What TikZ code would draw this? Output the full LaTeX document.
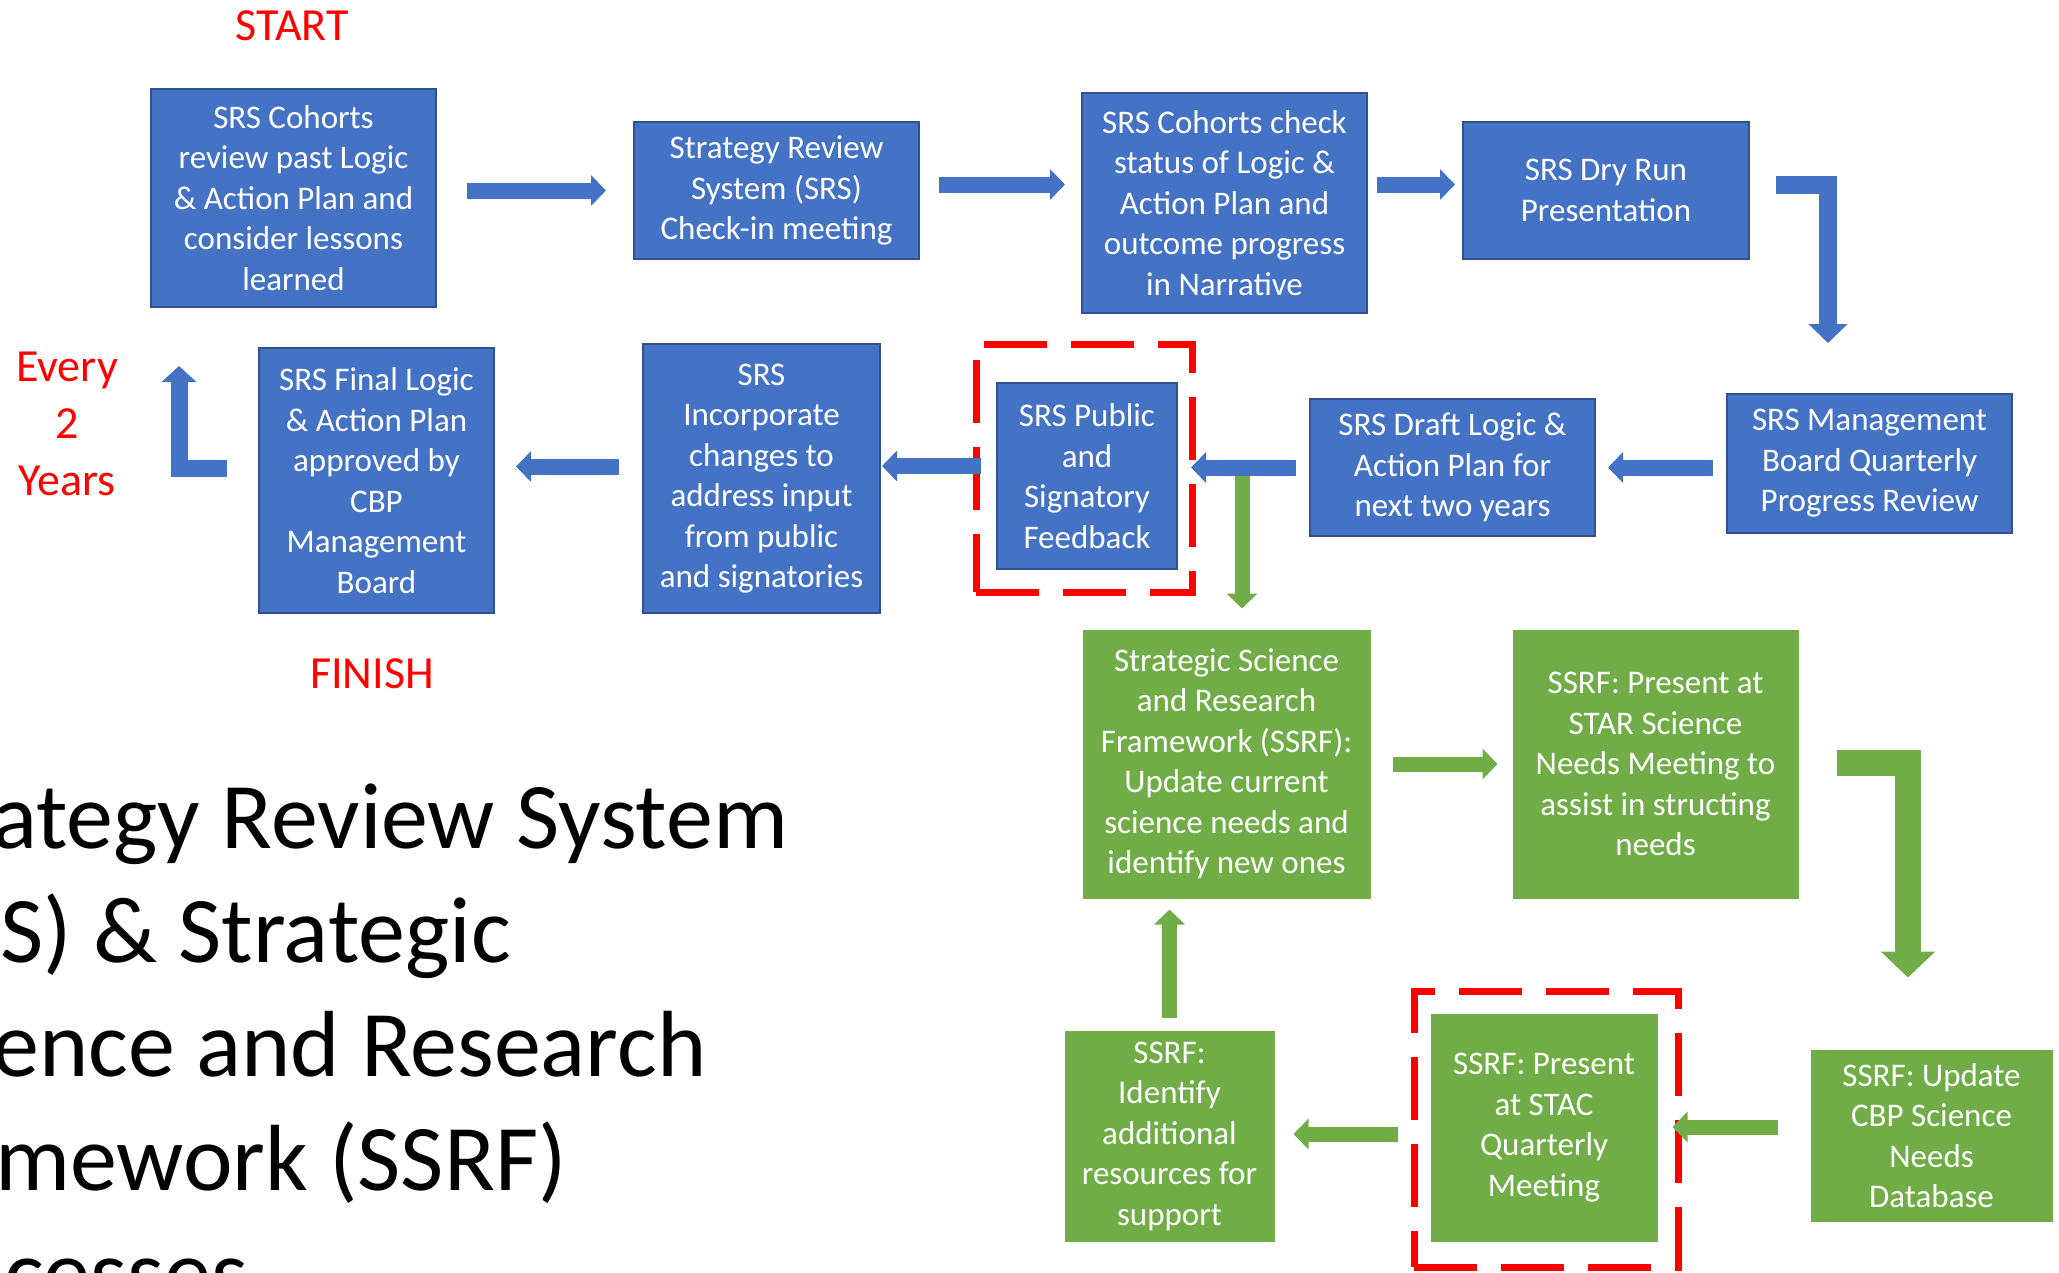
\documentclass[tikz,border=0pt]{standalone}
\usepackage{fontspec}
\setmainfont{Carlito}
\usetikzlibrary{arrows.meta,calc}
\definecolor{bfill}{HTML}{4472C4}
\definecolor{bline}{HTML}{2F528F}
\definecolor{gfill}{HTML}{70AD47}
\definecolor{rred}{HTML}{FF0000}
\begin{document}
\begin{tikzpicture}[x=1pt,y=-1pt,
  bbox/.style={draw=bline, line width=2pt, fill=bfill, text=white, align=center, inner sep=0pt, font=\fontsize{33}{40.5}\selectfont},
  gbox/.style={draw=gfill, line width=1pt, fill=gfill, text=white, align=center, inner sep=0pt, font=\fontsize{33}{40.5}\selectfont},
  reddash/.style={draw=rred, line width=7pt, dash pattern=on 63pt off 24pt, inner sep=0pt},
  redtext/.style={text=rred, align=center, inner sep=0pt, font=\fontsize{46}{57}\selectfont},
  bigtext/.style={anchor=base west, inner sep=0pt, font=\fontsize{94}{114}\selectfont},
  barrow/.style={draw=bfill, line width=16pt, line cap=butt, -{Triangle[length=15pt,width=30pt]}},
  bbent/.style={draw=bfill, line width=18pt, line cap=butt, line join=miter, -{Triangle[length=19pt,width=38pt]}},
  bell/.style={draw=bfill, line width=17pt, line cap=butt, line join=miter, -{Triangle[length=16pt,width=34pt]}},
  garrow/.style={draw=gfill, line width=15pt, line cap=butt, -{Triangle[length=15pt,width=30pt]}},
  gbent/.style={draw=gfill, line width=26pt, line cap=butt, line join=miter, -{Triangle[length=26pt,width=53pt]}}
]
\useasboundingbox[fill=white] (0,0) rectangle (2059,1272);

% red labels
\node[redtext] (start) at (292,26) {START};
\node[redtext] (finish) at (372,674) {FINISH};
\node[redtext] (every) at (67,424) {Every\\2\\Years};

% big title text (cut by the page edge, as in the reference)
\node[bigtext] (t1) at (-8,848) {ategy Review System};
\node[bigtext] (t2) at (0,962) {S) \& Strategic};
\node[bigtext] (t3) at (-8,1076) {ence and Research};
\node[bigtext] (t4) at (-5,1190) {mework (SSRF)};
\node[bigtext] (t5) at (4,1304) {cesses};

% dashed highlight frames
\node[reddash, minimum width=216pt, minimum height=248pt] (d1) at (1084,468) {};
\node[reddash, minimum width=264pt, minimum height=276pt] (d2) at (1546,1129) {};

% blue boxes
\node[bbox, minimum width=285pt, minimum height=218pt] (b1) at (293.5,198) {SRS Cohorts\\review past Logic\\\& Action Plan and\\consider lessons\\learned};
\node[bbox, minimum width=285pt, minimum height=137pt] (b2) at (776.5,190.5) {Strategy Review\\System (SRS)\\Check-in meeting};
\node[bbox, minimum width=285pt, minimum height=220pt] (b3) at (1224.5,203) {SRS Cohorts check\\status of Logic \&\\Action Plan and\\outcome progress\\in Narrative};
\node[bbox, minimum width=286pt, minimum height=137pt] (b4) at (1606,190.5) {SRS Dry Run\\Presentation};
\node[bbox, minimum width=285pt, minimum height=139pt] (b9) at (1869.5,463.5) {SRS Management\\Board Quarterly\\Progress Review};
\node[bbox, minimum width=285pt, minimum height=137pt] (b8) at (1452.5,467.5) {SRS Draft Logic \&\\Action Plan for\\next two years};
\node[bbox, minimum width=180pt, minimum height=186pt] (b7) at (1087,476) {SRS Public\\and\\Signatory\\Feedback};
\node[bbox, minimum width=237pt, minimum height=269pt] (b6) at (761.5,478.5) {SRS\\Incorporate\\changes to\\address input\\from public\\and signatories};
\node[bbox, minimum width=235pt, minimum height=265pt] (b5) at (376.5,480.5) {SRS Final Logic\\\& Action Plan\\approved by\\CBP\\Management\\Board};

% green boxes
\node[gbox, minimum width=287pt, minimum height=268pt] (g1) at (1226.5,764) {Strategic Science\\and Research\\Framework (SSRF):\\Update current\\science needs and\\identify new ones};
\node[gbox, minimum width=285pt, minimum height=268pt] (g2) at (1655.5,764) {SSRF: Present at\\STAR Science\\Needs Meeting to\\assist in structing\\needs};
\node[gbox, minimum width=241pt, minimum height=171pt] (g3) at (1931.5,1135.5) {SSRF: Update\\CBP Science\\Needs\\Database};
\node[gbox, minimum width=226pt, minimum height=227pt] (g4) at (1544,1127.5) {SSRF: Present\\at STAC\\Quarterly\\Meeting};
\node[gbox, minimum width=209pt, minimum height=210pt] (g5) at (1169.5,1136) {SSRF:\\Identify\\additional\\resources for\\support};

% blue connectors
\draw[barrow] ($(b1.east|-b2.west)+(30,0)$) -- ($(b2.west)+(-27,0)$);
\draw[barrow] ($(b2.east)+(19,-6)$) -- ($(b3.west|-b2.east)+(-16,-6)$);
\draw[barrow] ($(b3.east|-b4.west)+(9,-6)$) -- ($(b4.west)+(-7,-6)$);
\draw[bbent] ($(b4.east)+(26,-6)$) -| ($(b9.north)+(-41.5,-50)$);
\draw[barrow] ($(b9.west|-b8.east)+(-13,0)$) -- ($(b8.east)+(12,0)$);
\coordinate (j) at ($(b8.west)+(-67,0)$);
\draw[garrow] ($(j)+(0,7)$) -- ($(g1.north-|j)+(0,-21)$);
\draw[barrow] ($(b8.west)+(-13,0)$) -- ($(b7.east|-b8.west)+(13,0)$);
\draw[barrow] ($(b7.west)+(-15,-10)$) -- ($(b6.east|-b7.west)+(1,-10)$);
\draw[barrow] ($(b6.west)+(-23,-12)$) -- ($(b5.east|-b6.west)+(21,-12)$);
\coordinate (loop) at ($(b5.north west)+(-79,19)$);
\draw[bell] ($(b5.west)+(-31,-12)$) -| (loop);

% green connectors
\draw[garrow] ($(g1.east)+(22,0)$) -- ($(g2.west)+(-15,0)$);
\draw[gbent] ($(g2.east)+(38,-1)$) -| ($(g3.north)+(-23.5,-72)$);
\draw[garrow] ($(g3.west)+(-33,-8.5)$) -- ($(g4.east|-g3.west)+(15,-8.5)$);
\draw[garrow] ($(g4.west)+(-33,6.5)$) -- ($(g5.east|-g4.west)+(19,6.5)$);
\draw[garrow] ($(g5.north)+(0,-13)$) -- ($(g1.south-|g5.north)+(0,11)$);
\end{tikzpicture}
\end{document}
